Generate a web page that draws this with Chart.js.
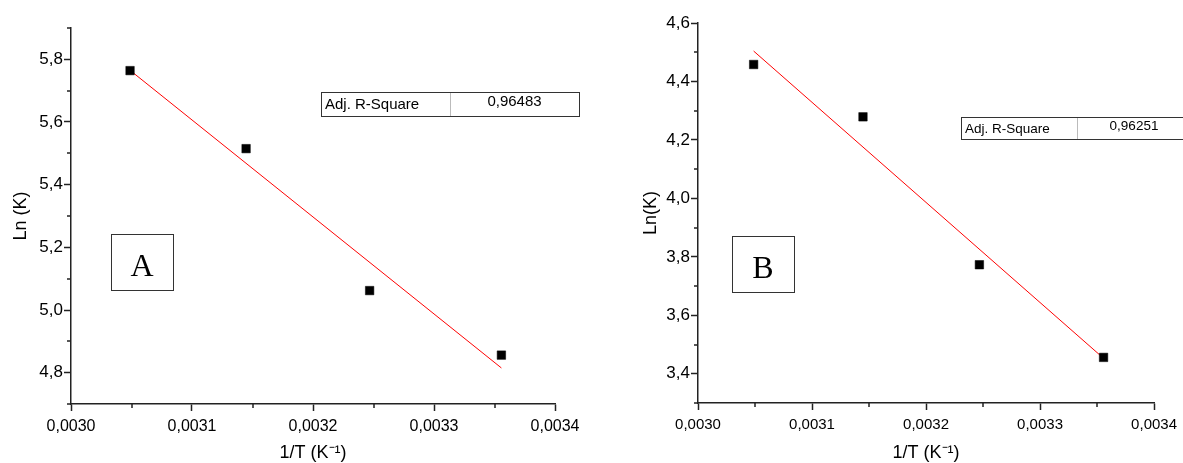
<!DOCTYPE html>
<html>
<head>
<meta charset="utf-8">
<script src="https://cdn.jsdelivr.net/npm/chart.js@4.4.1/dist/chart.umd.min.js"></script>
<style>
  body { margin: 0; background: #fff; }
  #wrap { position: relative; width: 1183px; height: 463px; overflow: hidden; }
  canvas { position: absolute; top: 0; }
</style>
</head>
<body>
<div id="wrap">
  <canvas id="chartA" width="590" height="463" style="left:0"></canvas>
  <canvas id="chartB" width="593" height="463" style="left:590px"></canvas>
</div>
<script>
// 1/T values (K^-1), same temperatures for both panels
const invT = [0.0030488, 0.0031447, 0.0032468, 0.0033557];

// Panel A: Ln(K)
const lnKA = [5.764, 5.515, 5.062, 4.856];
// Panel B: Ln(K)
const lnKB = [4.458, 4.279, 3.773, 3.456];

// linear fit end points
const fitXA = [0.0030488, 0.0033557];
const fitYA = [5.765, 4.815];
const fitXB = [0.0030488, 0.0033557];
const fitYB = [4.504, 3.453];

const r2A = '0,96483';
const r2B = '0,96251';

const FONT = '"Liberation Sans", Arial, sans-serif';

const fmt = (v, d) => v.toFixed(d).replace('.', ',');

// draws the Adj. R-Square table and the panel letter box
const notesPlugin = {
  id: 'notes',
  afterDraw(chart, args, o) {
    const ctx = chart.ctx;
    ctx.save();
    // table
    const t = o.table;
    ctx.strokeStyle = '#bbb';
    ctx.lineWidth = 1;
    ctx.beginPath();
    ctx.moveTo(t.mid + 0.5, t.y);
    ctx.lineTo(t.mid + 0.5, t.y + t.h);
    ctx.stroke();
    ctx.strokeStyle = '#333';
    ctx.strokeRect(t.x + 0.5, t.y + 0.5, t.w, t.h);
    ctx.fillStyle = '#000';
    ctx.font = t.size + 'px ' + FONT;
    ctx.textBaseline = 'middle';
    ctx.textAlign = 'left';
    ctx.fillText('Adj. R-Square', t.x + 4, t.y + t.h / 2 + 1);
    ctx.textAlign = 'center';
    ctx.fillText(t.value, (t.mid + t.x + t.w) / 2, t.y + t.h / 2 - 2);
    // letter box
    const b = o.box;
    ctx.strokeStyle = '#333';
    ctx.strokeRect(b.x + 0.5, b.y + 0.5, b.w, b.h);
    ctx.font = '32px "Liberation Serif", "Times New Roman", serif';
    ctx.textBaseline = 'alphabetic';
    ctx.fillText(b.text, b.x + b.w / 2, b.y + b.h / 2 + 14);
    ctx.restore();
  }
};

// shorter minor ticks: Chart.js draws one tick length, so minor ones are
// drawn here from the scale's own pixel mapping
const minorTicks = {
  id: 'minorTicks',
  afterDraw(chart) {
    const ctx = chart.ctx;
    const xs = chart.scales.x, ys = chart.scales.y;
    ctx.save();
    ctx.strokeStyle = '#222';
    ctx.lineWidth = 1.5;
    ctx.beginPath();
    xs.ticks.forEach((t, i) => {
      if (i % 2 === 1) {
        const px = Math.round(xs.getPixelForValue(t.value));
        ctx.moveTo(px, xs.top);
        ctx.lineTo(px, xs.top + 4);
      }
    });
    ys.ticks.forEach(t => {
      if (Math.round(t.value * 10) % 2 !== 0) {
        const py = Math.round(ys.getPixelForValue(t.value));
        ctx.moveTo(ys.right, py);
        ctx.lineTo(ys.right - 4, py);
      }
    });
    ctx.stroke();
    ctx.restore();
  }
};

function makeChart(id, cfg) {
  const ctx = document.getElementById(id).getContext('2d');
  return new Chart(ctx, {
    type: 'scatter',
    data: {
      datasets: [
        {
          label: 'data',
          data: invT.map((x, i) => ({ x: x, y: cfg.y[i] })),
          pointStyle: 'rect',
          pointRadius: 6,
          pointBackgroundColor: '#000',
          pointBorderColor: '#000',
          pointBorderWidth: 0.5,
          order: 0
        },
        {
          label: 'fit',
          data: cfg.fitX.map((x, i) => ({ x: x, y: cfg.fitY[i] })),
          showLine: true,
          borderColor: '#ff0000',
          borderWidth: 1,
          pointRadius: 0,
          order: 1
        }
      ]
    },
    options: {
      responsive: false,
      animation: false,
      layout: { padding: cfg.padding },
      plugins: {
        legend: { display: false },
        tooltip: { enabled: false },
        notes: { table: cfg.table, box: cfg.box }
      },
      scales: {
        x: {
          type: 'linear',
          min: 0.0030,
          max: 0.0034,
          afterFit: s => { s.height = cfg.xHeight; },
          afterBuildTicks: s => {
            s.ticks = [];
            for (let k = 0; k <= 8; k++) s.ticks.push({ value: 0.0030 + k * 0.00005 });
          },
          border: { color: '#222', width: 1.5 },
          grid: {
            drawOnChartArea: false, drawTicks: true, tickLength: 7, tickWidth: 1.5,
            tickColor: c => (c.index % 2 === 0 ? '#222' : 'rgba(0,0,0,0)')
          },
          ticks: {
            autoSkip: false,
            maxRotation: 0,
            padding: 6,
            color: '#000',
            font: { family: FONT, size: cfg.tickSize },
            callback: (v, i) => (i % 2 === 0 ? fmt(v, 4) : '')
          },
          title: {
            display: true,
            text: '1/T (K\u207B\u00B9)',
            color: '#000',
            font: { family: FONT, size: 18 },
            padding: { top: 0, bottom: -1 }
          }
        },
        y: {
          type: 'linear',
          min: cfg.yMin,
          max: cfg.yMax,
          afterFit: s => { s.width = cfg.yWidth; },
          afterBuildTicks: s => {
            s.ticks = [];
            const n = Math.round((cfg.yMax - cfg.yMin) * 10);
            for (let k = 0; k <= n; k++) s.ticks.push({ value: cfg.yMin + k * 0.1 });
          },
          border: { color: '#222', width: 1.5 },
          grid: {
            drawOnChartArea: false, drawTicks: true, tickLength: 7, tickWidth: 1.5,
            tickColor: c => (Math.round(c.tick.value * 10) % 2 === 0 ? '#222' : 'rgba(0,0,0,0)')
          },
          ticks: {
            autoSkip: false,
            padding: 1,
            color: '#000',
            font: { family: FONT, size: 17 },
            callback: v => (Math.round(v * 10) % 2 === 0 ? fmt(v, 1) : '')
          },
          title: {
            display: true,
            text: cfg.yTitle,
            color: '#000',
            font: { family: FONT, size: 18 },
            padding: { top: 10, bottom: 0 }
          }
        }
      }
    },
    plugins: [notesPlugin, minorTicks]
  });
}

makeChart('chartA', {
  y: lnKA, fitX: fitXA, fitY: fitYA,
  yMin: 4.7, yMax: 5.9,
  yTitle: 'Ln (K)',
  yWidth: 71, xHeight: 59,
  padding: { left: 0, top: 28, right: 35, bottom: 0 },
  tickSize: 16,
  table: { x: 321, y: 92, w: 258, h: 24, mid: 450, size: 15, value: r2A },
  box: { x: 111, y: 234, w: 62, h: 56, text: 'A' }
});

makeChart('chartB', {
  y: lnKB, fitX: fitXB, fitY: fitYB,
  yMin: 3.3, yMax: 4.6,
  yTitle: 'Ln(K)',
  yWidth: 68, xHeight: 60,
  padding: { left: 40, top: 23, right: 24, bottom: 0 },
  tickSize: 15,
  table: { x: 371, y: 117, w: 230, h: 22, mid: 487, size: 13.5, value: r2B },
  box: { x: 142, y: 236, w: 62, h: 56, text: 'B' }
});
</script>
</body>
</html>
